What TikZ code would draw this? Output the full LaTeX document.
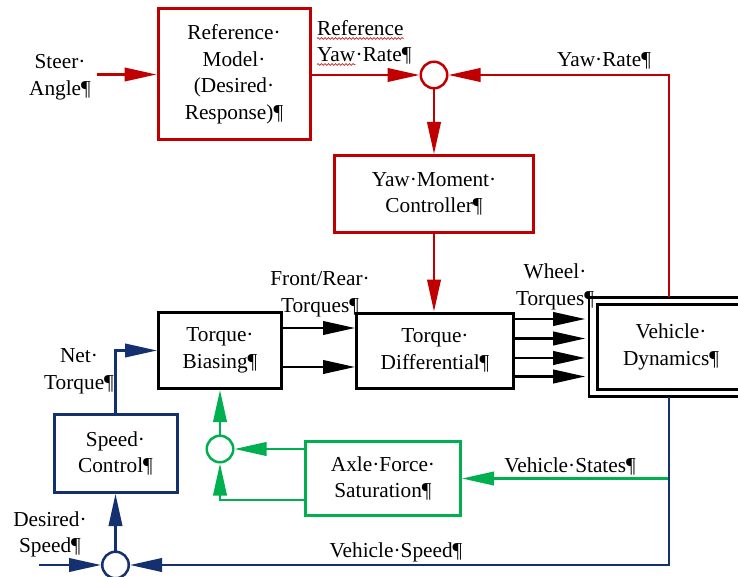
\documentclass[tikz,border=0pt]{standalone}
\usepackage{fontspec}
\setmainfont{Liberation Serif}
\usetikzlibrary{arrows.meta,calc,decorations.pathmorphing}
\definecolor{ycred}{HTML}{C00000}
\definecolor{ycnavy}{HTML}{14306E}
\definecolor{ycgreen}{HTML}{00B050}
\tikzset{
  bigtip/.tip={Triangle[length=32pt,width=13.5pt]},
  lbl/.style={font=\fontsize{21.3pt}{26.5pt}\selectfont, align=center, inner sep=0pt},
  blk/.style={lbl, rectangle, draw, line width=3pt},
  conn/.style={line width=2.3pt, -bigtip},
  sumpt/.style={circle, draw, line width=2.5pt, minimum size=26.5pt, inner sep=0pt},
  spell/.style={ycred!85, line width=0.7pt, decorate,
    decoration={snake, amplitude=0.9pt, segment length=3.5pt}},
}
\begin{document}
\begin{tikzpicture}[x=1pt,y=-1pt]
\useasboundingbox (0,0) rectangle (738,577);
\fill[white] (0,0) rectangle (738,577);

% blocks
\node[blk, ycred, text=black, minimum width=152pt, minimum height=131pt] (refm) at (234,74.5)
  {Reference·\\Model·\\(Desired·\\Response)¶};
\node[blk, ycred, text=black, minimum width=199pt, minimum height=77pt] (ymc) at (434,194)
  {Yaw·Moment·\\Controller¶};
\node[blk, minimum width=123pt, minimum height=76pt] (tb) at (220,350.5)
  {Torque·\\Biasing¶};
\node[blk, minimum width=157pt, minimum height=75pt] (td) at (435,350.5)
  {Torque·\\Differential¶};
\node[blk, ycnavy, text=black, minimum width=123pt, minimum height=78pt] (sc) at (115.5,453.5)
  {Speed·\\Control¶};
\node[blk, ycgreen, text=black, minimum width=155pt, minimum height=74pt] (afs) at (383,478.5)
  {Axle·Force·\\Saturation¶};

% vehicle dynamics: outer frame (heavier top and bottom) around a heavy inner frame
\node[lbl, rectangle, draw, line width=1.6pt, minimum width=164pt, minimum height=98pt] (vd) at (671,347)
  {Vehicle·\\Dynamics¶};
\draw[line width=3pt] (vd.north west) -- (vd.north east);
\draw[line width=2.6pt] (vd.south west) -- (vd.south east);
\draw[line width=3pt] ($(vd.north west)+(9,7)$) rectangle ($(vd.south east)+(-9,-7)$);

% summing junctions
\node[sumpt, ycred] (c1) at (434,75) {};
\node[sumpt, ycgreen] (c2) at (220,449) {};
\node[sumpt, ycnavy] (c3) at (115.5,565) {};

% free ends
\coordinate (steerin) at (97,74.5);
\coordinate (dspd) at (39,565);
\coordinate (vdtop) at ($(vd.north)+(-2,0)$);
\coordinate (vdbot) at ($(vd.south)+(-2,0)$);

% signal labels
\node[lbl] (steer) at (60,77) {Steer·\\Angle¶};
\node[lbl, anchor=base west] (rl1) at (317,36) {Reference};
\node[lbl, anchor=base west] (rl2a) at (317,62) {Yaw};
\node[lbl, anchor=base west] (rl2b) at (rl2a.base east) {·Rate¶};
\draw[spell] ($(rl1.base west)+(0,2.5)$) -- ($(rl1.base east)+(0,2.5)$);
\draw[spell] ($(rl2a.base west)+(0,2.5)$) -- ($(rl2a.base east)+(0,2.5)$);
\node[lbl, anchor=base] (yr) at (604,67) {Yaw·Rate¶};
\node[lbl] (frt) at (320,294) {Front/Rear·\\Torques¶};
\node[lbl] (wt) at (555,287) {Wheel·\\Torques¶};
\node[lbl] (nt) at (79,371.5) {Net·\\Torque¶};
\node[lbl] (ds) at (50,534.5) {Desired·\\Speed¶};
\node[lbl, anchor=base] (vst) at (570,472) {Vehicle·States¶};
\node[lbl, anchor=base] (vsp) at (396,557) {Vehicle·Speed¶};

% yaw loop
\draw[conn, ycred] (steerin) -- (steerin -| refm.west);
\draw[conn, ycred] (refm.east |- c1) -- (c1.west);
\draw[conn, ycred] (vdtop) |- (c1.east);
\draw[conn, ycred] (c1.south) -- (c1.south |- ymc.north);
\draw[conn, ycred] (ymc.south) -- (ymc.south |- td.north);

% torque path
\foreach \dy in {-22.5,16.5}
  \draw[conn] ($(tb.east)+(0,\dy)$) -- ($(td.west)+(0,\dy)$);
\foreach \dy [count=\k] in {-31.5,-12,7.5,26}
  \draw[conn, shorten >=3pt] ($(td.east)+(0,\dy)$) coordinate (wheel\k) -- (wheel\k -| vd.west);

% axle force saturation
\draw[conn, ycgreen] (vdbot |- afs.east) -- (afs.east);
\draw[conn, ycgreen] (afs.west |- c2) -- (c2.east);
\draw[conn, ycgreen] ($(afs.west)+(0,21.5)$) -| (c2.south);
\draw[conn, ycgreen] (c2.north) -- (c2.north |- tb.south);

% speed loop
\draw[conn, ycnavy] (sc.north) |- (tb.west);
\draw[conn, ycnavy] (c3.north) -- (c3.north |- sc.south);
\draw[conn, ycnavy] (dspd) -- (c3.west);
\draw[conn, ycnavy] (vdbot) |- (c3.east);
\end{tikzpicture}
\end{document}
